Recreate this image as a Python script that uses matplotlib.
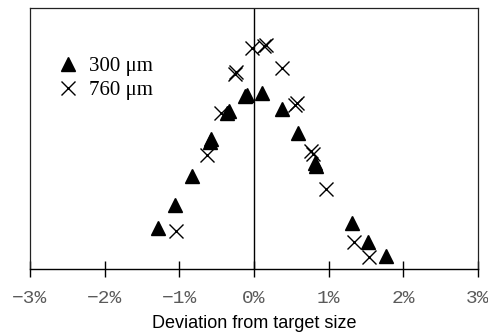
import matplotlib.pyplot as plt
import matplotlib.ticker as mticker

# DATA (deviation in %, frequency in arbitrary units)
# ---------------------------------------------------
dev_300 = [-1.29, -1.06, -0.83, -0.59, -0.57, -0.36, -0.34, -0.12, -0.10,
           0.11, 0.37, 0.59, 0.82, 0.83, 1.31, 1.53, 1.77]
freq_300 = [4.7, 7.4, 10.7, 14.6, 14.9, 17.9, 18.2, 19.9, 20.0,
            20.2, 18.4, 15.6, 12.2, 11.8, 5.3, 3.1, 1.5]

dev_760 = [-1.05, -0.63, -0.44, -0.26, -0.24, -0.03, 0.13, 0.16,
           0.38, 0.55, 0.57, 0.77, 0.79, 0.96, 1.34, 1.54]
freq_760 = [4.4, 13.1, 17.9, 22.4, 22.7, 25.4, 25.6, 25.8,
            23.1, 18.9, 19.1, 13.6, 13.2, 9.2, 3.1, 1.4]

xticks = [-3, -2, -1, 0, 1, 2, 3]

# PLOT
# ----
fig = plt.figure(figsize=(4.89, 3.35), dpi=100)
ax = fig.add_axes([0.0613, 0.197, 0.9162, 0.779])

ax.plot(dev_300, freq_300, linestyle='none', marker='^', ms=10.5,
        color='black', label='300 μm')
ax.plot(dev_760, freq_760, linestyle='none', marker='x', ms=10,
        mew=1.0, color='black', label='760 μm')

ax.axvline(0, color='black', lw=1.0)

ax.set_xlim(-3, 3)
ax.set_ylim(0, 30)
ax.set_xticks(xticks)
ax.xaxis.set_major_formatter(mticker.FuncFormatter(
    lambda v, p: f"{int(v)}%".replace('-', '\u2212')))
ax.set_yticks([])

for s in ['left', 'right', 'top']:
    ax.spines[s].set_linewidth(0.9)
    ax.spines[s].set_color('#222222')
ax.spines['bottom'].set_linewidth(1.0)

ax.tick_params(axis='x', direction='inout', length=12, width=1.0,
               pad=9, labelsize=14, labelcolor='#5a5a5a')
for lbl in ax.get_xticklabels():
    lbl.set_family('Liberation Mono')

ax.set_xlabel('Deviation from target size', fontsize=13,
              family='Liberation Sans', labelpad=6)

leg = ax.legend(loc='upper left', bbox_to_anchor=(0.042, 0.845),
                frameon=False, handletextpad=0.55, labelspacing=0.2,
                prop={'family': 'Liberation Serif', 'size': 15},
                handlelength=1.0, borderaxespad=0)

fig.savefig('out.png', dpi=100)
